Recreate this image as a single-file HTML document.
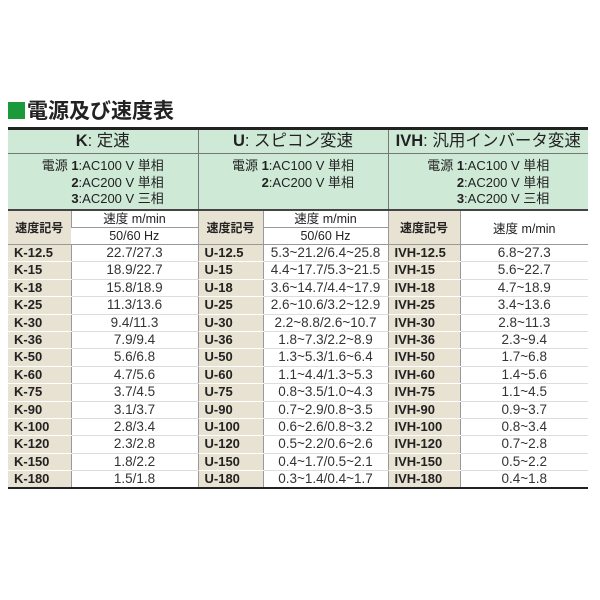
<!DOCTYPE html><html><head><meta charset="utf-8"><style>
body{margin:0;width:600px;height:600px;background:#fff;position:relative;font-family:"Liberation Sans","Noto Sans CJK JP",sans-serif;color:#222;overflow:hidden}
.t{position:absolute;left:8px;top:99px;font-size:21px;line-height:26px;font-weight:bold;color:#222;white-space:nowrap}
.t span{display:inline-block;width:17px;height:17px;background:#1a9a3a;margin-right:2px;vertical-align:-1px}
table{position:absolute;left:8px;top:127px;width:580px;border-collapse:collapse;table-layout:fixed;border-top:3px solid #222;border-bottom:2px solid #222}
td{padding:0;text-align:center;font-size:13px;white-space:nowrap;overflow:hidden}
.h td{background:#cfe9d7;font-size:16.5px;border-left:1px solid #777;border-bottom:1px solid #777}
.h td div{height:23px;line-height:23px;overflow:hidden}
.p td{background:#cfe9d7;font-size:13px;border-left:1px solid #777;border-bottom:2px solid #444;vertical-align:top}
.p td>div{height:55px;overflow:hidden;padding-top:4px;box-sizing:border-box}
.p span{display:inline-block;text-align:right;line-height:16.5px}
.c{background:#e8e2d2;font-weight:bold;font-size:13px;text-align:left;padding-left:6px;border-bottom:1px solid #fff;border-left:1px solid #999}
.v{border-left:1px solid #999;border-bottom:1px solid #ddd;color:#333;font-size:13.5px}
.d td div{height:16.4px;line-height:16.4px;overflow:hidden}
.hc{background:#e8e2d2;font-weight:bold;font-size:12px;border-left:1px solid #999;border-bottom:1px solid #999}
.hv{border-left:1px solid #999;border-bottom:1px solid #999;font-size:12.5px}
.hv div{height:16px;line-height:16px;overflow:hidden}
tr td:first-child{border-left:none}
</style></head><body>
<div class="t"><span></span>電源及び速度表</div>
<table>
<col style="width:63px"><col style="width:127px"><col style="width:65px"><col style="width:125px"><col style="width:72px"><col style="width:128px">
<tr class="h"><td colspan="2"><div><b>K</b>: 定速</div></td><td colspan="2"><div><b>U</b>: スピコン変速</div></td><td colspan="2"><div><b>IVH</b>: 汎用インバータ変速</div></td></tr>
<tr class="p"><td colspan="2"><div><span>電源 <b>1</b>:AC100 V 単相<br><b>2</b>:AC200 V 単相<br><b>3</b>:AC200 V 三相</span></div></td><td colspan="2"><div><span>電源 <b>1</b>:AC100 V 単相<br><b>2</b>:AC200 V 単相<br>&nbsp;</span></div></td><td colspan="2"><div><span>電源 <b>1</b>:AC100 V 単相<br><b>2</b>:AC200 V 単相<br><b>3</b>:AC200 V 三相</span></div></td></tr>
<tr><td class="hc" rowspan="2">速度記号</td><td class="hv"><div>速度 m/min</div></td><td class="hc" rowspan="2">速度記号</td><td class="hv"><div>速度 m/min</div></td><td class="hc" rowspan="2">速度記号</td><td class="hv" rowspan="2">速度 m/min</td></tr>
<tr><td class="hv"><div>50/60 Hz</div></td><td class="hv"><div>50/60 Hz</div></td></tr>
<tr class="d"><td class="c"><div>K-12.5</div></td><td class="v"><div>22.7/27.3</div></td><td class="c"><div>U-12.5</div></td><td class="v"><div>5.3~21.2/6.4~25.8</div></td><td class="c"><div>IVH-12.5</div></td><td class="v"><div>6.8~27.3</div></td></tr>
<tr class="d"><td class="c"><div>K-15</div></td><td class="v"><div>18.9/22.7</div></td><td class="c"><div>U-15</div></td><td class="v"><div>4.4~17.7/5.3~21.5</div></td><td class="c"><div>IVH-15</div></td><td class="v"><div>5.6~22.7</div></td></tr>
<tr class="d"><td class="c"><div>K-18</div></td><td class="v"><div>15.8/18.9</div></td><td class="c"><div>U-18</div></td><td class="v"><div>3.6~14.7/4.4~17.9</div></td><td class="c"><div>IVH-18</div></td><td class="v"><div>4.7~18.9</div></td></tr>
<tr class="d"><td class="c"><div>K-25</div></td><td class="v"><div>11.3/13.6</div></td><td class="c"><div>U-25</div></td><td class="v"><div>2.6~10.6/3.2~12.9</div></td><td class="c"><div>IVH-25</div></td><td class="v"><div>3.4~13.6</div></td></tr>
<tr class="d"><td class="c"><div>K-30</div></td><td class="v"><div>9.4/11.3</div></td><td class="c"><div>U-30</div></td><td class="v"><div>2.2~8.8/2.6~10.7</div></td><td class="c"><div>IVH-30</div></td><td class="v"><div>2.8~11.3</div></td></tr>
<tr class="d"><td class="c"><div>K-36</div></td><td class="v"><div>7.9/9.4</div></td><td class="c"><div>U-36</div></td><td class="v"><div>1.8~7.3/2.2~8.9</div></td><td class="c"><div>IVH-36</div></td><td class="v"><div>2.3~9.4</div></td></tr>
<tr class="d"><td class="c"><div>K-50</div></td><td class="v"><div>5.6/6.8</div></td><td class="c"><div>U-50</div></td><td class="v"><div>1.3~5.3/1.6~6.4</div></td><td class="c"><div>IVH-50</div></td><td class="v"><div>1.7~6.8</div></td></tr>
<tr class="d"><td class="c"><div>K-60</div></td><td class="v"><div>4.7/5.6</div></td><td class="c"><div>U-60</div></td><td class="v"><div>1.1~4.4/1.3~5.3</div></td><td class="c"><div>IVH-60</div></td><td class="v"><div>1.4~5.6</div></td></tr>
<tr class="d"><td class="c"><div>K-75</div></td><td class="v"><div>3.7/4.5</div></td><td class="c"><div>U-75</div></td><td class="v"><div>0.8~3.5/1.0~4.3</div></td><td class="c"><div>IVH-75</div></td><td class="v"><div>1.1~4.5</div></td></tr>
<tr class="d"><td class="c"><div>K-90</div></td><td class="v"><div>3.1/3.7</div></td><td class="c"><div>U-90</div></td><td class="v"><div>0.7~2.9/0.8~3.5</div></td><td class="c"><div>IVH-90</div></td><td class="v"><div>0.9~3.7</div></td></tr>
<tr class="d"><td class="c"><div>K-100</div></td><td class="v"><div>2.8/3.4</div></td><td class="c"><div>U-100</div></td><td class="v"><div>0.6~2.6/0.8~3.2</div></td><td class="c"><div>IVH-100</div></td><td class="v"><div>0.8~3.4</div></td></tr>
<tr class="d"><td class="c"><div>K-120</div></td><td class="v"><div>2.3/2.8</div></td><td class="c"><div>U-120</div></td><td class="v"><div>0.5~2.2/0.6~2.6</div></td><td class="c"><div>IVH-120</div></td><td class="v"><div>0.7~2.8</div></td></tr>
<tr class="d"><td class="c"><div>K-150</div></td><td class="v"><div>1.8/2.2</div></td><td class="c"><div>U-150</div></td><td class="v"><div>0.4~1.7/0.5~2.1</div></td><td class="c"><div>IVH-150</div></td><td class="v"><div>0.5~2.2</div></td></tr>
<tr class="d"><td class="c"><div>K-180</div></td><td class="v"><div>1.5/1.8</div></td><td class="c"><div>U-180</div></td><td class="v"><div>0.3~1.4/0.4~1.7</div></td><td class="c"><div>IVH-180</div></td><td class="v"><div>0.4~1.8</div></td></tr>
</table>
</body></html>
